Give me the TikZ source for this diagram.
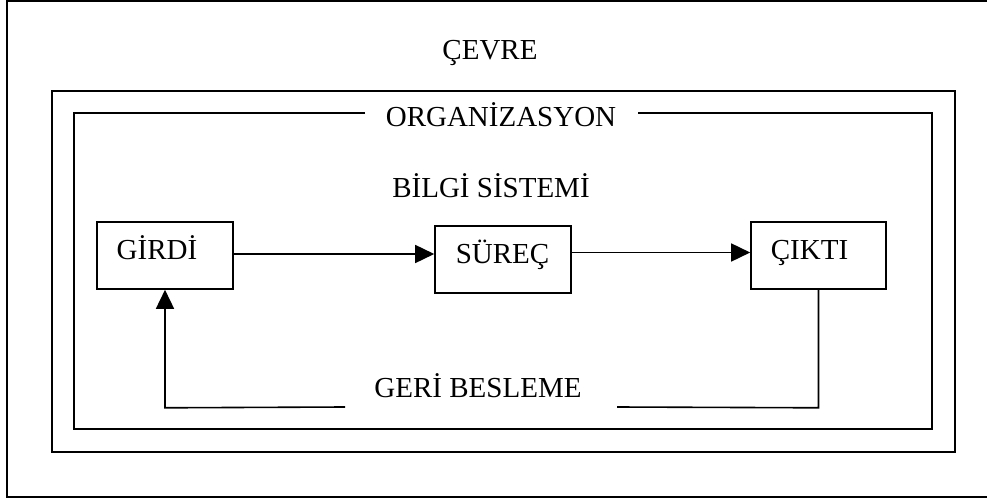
\documentclass[tikz,border=0pt]{standalone}
\usepackage{fontspec}
\setmainfont{Liberation Serif}
\usetikzlibrary{arrows.meta}
\begin{document}
\begin{tikzpicture}[x=1pt,y=-1pt,
  frame/.style={draw=black,line width=1.6pt},
  stagebox/.style={draw=black,line width=1.6pt,rectangle,inner sep=0pt,
    minimum height=67pt},
  caption/.style={anchor=base,inner sep=0pt,font=\fontsize{29}{34}\selectfont},
  flow/.style={draw=black,line width=1.6pt,-{Triangle[length=19pt,width=18pt]}},
  link/.style={draw=black,line width=1.6pt}]
\useasboundingbox (0,0) rectangle (987,502);

% environment frame (right side runs off the page)
\draw[frame] (7,1) rectangle (995,497);
\node[caption] (cevre) at (490,60) {ÇEVRE};

% organisation frames
\draw[frame] (52,91) rectangle (955,452);
\draw[frame] (365,113) -| (74,429) -| (932,113) -- (638,113);
\node[caption] (org) at (501,127) {ORGANİZASYON};
\node[caption] (bs) at (491,198) {BİLGİ SİSTEMİ};

% stages of the information system
\node[stagebox,minimum width=136pt] (girdi) at (165,255.5) {};
\node[stagebox,minimum width=136pt] (surec) at (503,259.5) {};
\node[stagebox,minimum width=135pt] (cikti) at (818.5,255.5) {};
\node[caption] (tgirdi) at (157,260) {GİRDİ};
\node[caption] (tsurec) at (502.5,264) {SÜREÇ};
\node[caption] (tcikti) at (809.5,260) {ÇIKTI};

% forward flow
\draw[flow] ([yshift=1.5pt]girdi.east) -- ([yshift=1.5pt]girdi.east -| surec.west);
\draw[flow] ([yshift=3pt]cikti.west -| surec.east) -- ([yshift=3pt]cikti.west);

% feedback loop
\coordinate (fbR) at ([yshift=-118pt]cikti.south);
\coordinate (fbL) at (fbR -| girdi.south);
\coordinate (gapR) at (617,407);
\coordinate (gapL) at (345,407);
\draw[link] (cikti.south) -- (fbR) -- (gapR);
\draw[flow] (gapL) -- (fbL) -- (girdi.south);
\node[caption] (geri) at (478,397) {GERİ BESLEME};
\end{tikzpicture}
\end{document}
